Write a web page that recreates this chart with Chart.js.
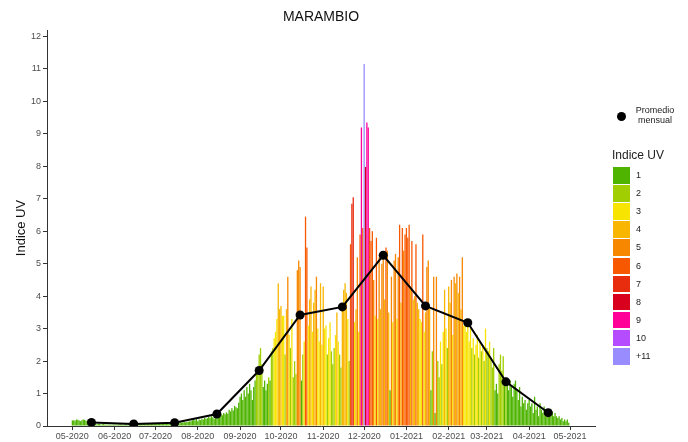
<!DOCTYPE html>
<html>
<head>
<meta charset="utf-8">
<script src="https://cdn.jsdelivr.net/npm/chart.js@4.4.0/dist/chart.umd.min.js"></script>
<style>
  body { margin: 0; background: #fff; font-family: "Liberation Sans", Arial, sans-serif; }
  #wrap { position: relative; width: 688px; height: 442px; }
  #title { position: absolute; left: 47px; top: 8px; width: 548px; text-align: center; font-size: 14px; color: #111; }
  #avg-dot { position: absolute; left: 617px; top: 112px; width: 9px; height: 9px; border-radius: 50%; background: #000; }
  #avg-label { position: absolute; left: 630px; top: 105px; width: 50px; text-align: center; font-size: 9px; line-height: 10px; color: #222; }
  #uv-title { position: absolute; left: 612px; top: 148px; font-size: 12px; color: #222; }
  .uv-box { position: absolute; left: 613px; width: 17px; height: 16.5px; }
  .uv-label { position: absolute; left: 636px; font-size: 9px; line-height: 10px; color: #222; }
</style>
</head>
<body>
<div id="wrap">
  <canvas id="chart-uv"></canvas>
  <div id="title">MARAMBIO</div>
  <div id="avg-dot"></div>
  <div id="avg-label">Promedio<br>mensual</div>
  <div id="uv-title">Indice UV</div>
</div>
<script>
// month ticks (day index from 1 May 2020)
const monthLabels = ['05-2020', '06-2020', '07-2020', '08-2020', '09-2020', '10-2020', '11-2020',
  '12-2020', '01-2021', '02-2021', '03-2021', '04-2021', '05-2021'];
const monthStartDay = [0, 31, 61, 92, 123, 153, 184, 214, 245, 276, 304, 335, 365];

// monthly average, plotted at the 15th of each month
const monthAvgDay = [14, 45, 75, 106, 137, 167, 198, 228, 259, 290, 318, 349];
const monthlyAvg = [0.11, 0.06, 0.10, 0.37, 1.71, 3.42, 3.67, 5.26, 3.70, 3.18, 1.36, 0.41];

// daily UV index, one array per month
const uvMay20 = [0.17, 0.18, 0.16, 0.2, 0.19, 0.17, 0.15, 0.18, 0.2, 0.19, 0.16, 0.17, 0.12, 0.09, 0.08, 0.07,
  0.06, 0.06, 0.05, 0.07, 0.06, 0.05, 0.05, 0.06, 0.05, 0.04, 0.05, 0.05, 0.04, 0.04, 0.05];
const uvJun20 = [0.04, 0.05, 0.04, 0.05, 0.06, 0.05, 0.04, 0.05, 0.06, 0.05, 0.06, 0.05, 0.04, 0.05, 0.06,
  0.05, 0.06, 0.07, 0.06, 0.05, 0.06, 0.07, 0.06, 0.07, 0.06, 0.07, 0.08, 0.07, 0.06, 0.07];
const uvJul20 = [0.06, 0.07, 0.06, 0.07, 0.08, 0.07, 0.08, 0.07, 0.08, 0.09, 0.08, 0.09, 0.08, 0.1, 0.09, 0.1,
  0.09, 0.1, 0.11, 0.1, 0.11, 0.12, 0.11, 0.12, 0.13, 0.14, 0.15, 0.18, 0.2, 0.17, 0.22];
const uvAug20 = [0.15, 0.2, 0.18, 0.22, 0.2, 0.25, 0.22, 0.24, 0.28, 0.25, 0.3, 0.27, 0.22, 0.3, 0.32, 0.35,
  0.3, 0.38, 0.33, 0.4, 0.36, 0.42, 0.38, 0.5, 0.45, 0.55, 0.48, 0.62, 0.58, 0.55, 0.72];
const uvSep20 = [0.9, 1.0, 0.8, 1.1, 0.9, 1.2, 1.0, 1.3, 1.1, 0.8, 1.2, 1.4, 1.6, 1.8, 2.2, 2.4, 1.9, 1.2,
  1.4, 1.1, 1.3, 1.5, 1.4, 2.3, 2.4, 2.7, 2.9, 3.3, 4.4, 3.6];
const uvOct20 = [3.7, 3.4, 3.4, 2.2, 3.6, 4.6, 2.8, 2.4, 3.3, 1.5, 2.0, 1.6, 4.8, 5.1, 4.9, 1.4, 2.2, 2.6,
  6.45, 5.5, 3.1, 3.9, 4.3, 2.9, 3.8, 4.2, 4.6, 3.0, 2.6, 4.4, 2.5];
const uvNov20 = [4.3, 3.0, 3.1, 2.2, 2.7, 3.2, 2.3, 1.9, 2.4, 2.8, 3.5, 2.6, 2.2, 1.8, 3.6, 4.2, 4.4, 4.1,
  3.3, 2.0, 5.6, 6.85, 7.05, 3.2, 3.6, 5.2, 2.9, 5.9, 9.2, 6.1];
const uvDec20 = [11.15, 7.98, 9.35, 9.2, 6.1, 5.7, 6.0, 4.5, 3.4, 5.8, 3.3, 5.2, 3.6, 5.0, 5.3, 3.9, 5.5,
  5.4, 3.5, 1.1, 4.6, 3.2, 5.1, 5.3, 3.3, 5.2, 6.2, 3.8, 6.1, 5.4, 5.9];
const uvJan21 = [6.1, 5.8, 6.2, 4.3, 5.7, 3.9, 4.0, 5.6, 3.8, 3.6, 3.3, 3.2, 5.9, 2.9, 3.5, 4.9, 5.1, 3.6,
  1.1, 2.3, 4.6, 0.4, 4.6, 2.0, 1.5, 2.6, 1.9, 2.9, 4.2, 3.0, 2.4];
const uvFeb21 = [4.3, 3.8, 4.5, 2.8, 4.6, 4.4, 4.7, 4.1, 4.6, 3.6, 5.2, 3.1, 3.3, 2.9, 3.2, 2.6, 3.0, 2.4,
  2.7, 2.2, 2.5, 2.8, 2.1, 2.6, 2.3, 2.5, 2.0, 3.0];
const uvMar21 = [2.4, 2.3, 2.6, 2.1, 1.8, 2.4, 1.1, 1.3, 1.0, 1.9, 2.2, 1.7, 2.15, 1.4, 1.5, 1.3, 1.1, 1.4,
  1.2, 0.9, 1.3, 1.4, 1.1, 0.8, 1.2, 0.6, 0.9, 0.7, 0.8, 0.5, 0.7];
const uvApr21 = [0.8, 0.6, 0.7, 0.4, 0.9, 0.5, 0.6, 0.3, 0.7, 0.5, 0.4, 0.6, 0.5, 0.3, 0.5, 0.4, 0.35, 0.45,
  0.3, 0.4, 0.3, 0.25, 0.3, 0.2, 0.25, 0.15, 0.2, 0.15, 0.2, 0.1];

// UV scale legend
const uvLevels = ['1', '2', '3', '4', '5', '6', '7', '8', '9', '10', '+11'];
const uvColors = ['#4eb400', '#a0ce00', '#f7e400', '#f8b600', '#f88700', '#f85900', '#e82c0e',
  '#d8001d', '#ff0099', '#b54cff', '#998cff'];

const yTicks = [0, 1, 2, 3, 4, 5, 6, 7, 8, 9, 10, 11, 12];

function uvColor(v) {
  let level = Math.round(v);
  if (level < 1) level = 1;
  if (level > 11) level = 11;
  return uvColors[level - 1];
}

const daily = [].concat(uvMay20, uvJun20, uvJul20, uvAug20, uvSep20, uvOct20, uvNov20,
  uvDec20, uvJan21, uvFeb21, uvMar21, uvApr21);
const dailyPoints = daily.map((v, i) => ({ x: i, y: v }));
const avgPoints = monthlyAvg.map((v, i) => ({ x: monthAvgDay[i], y: v }));

// legend boxes
const wrap = document.getElementById('wrap');
uvLevels.forEach((lab, i) => {
  const top = 167 + i * 18.1;
  const box = document.createElement('div');
  box.className = 'uv-box';
  box.style.top = top + 'px';
  box.style.background = uvColors[i];
  wrap.appendChild(box);
  const txt = document.createElement('div');
  txt.className = 'uv-label';
  txt.style.top = (top + 3) + 'px';
  txt.textContent = lab;
  wrap.appendChild(txt);
});

const tickFont = { family: '"Liberation Sans", Arial, sans-serif', size: 9 };

const config = {
  type: 'bar',
  data: {
    datasets: [
      {
        type: 'line',
        label: 'Promedio mensual',
        data: avgPoints,
        borderColor: '#000',
        borderWidth: 2,
        pointRadius: 4.5,
        pointBackgroundColor: '#000',
        pointBorderWidth: 0,
        tension: 0,
        order: 0,
      },
      {
        type: 'bar',
        label: 'Indice UV',
        data: dailyPoints,
        backgroundColor: (ctx) => uvColor(ctx.raw ? ctx.raw.y : 0),
        barPercentage: 0.95,
        categoryPercentage: 1,
        order: 1,
      },
    ],
  },
  options: {
    responsive: true,
    maintainAspectRatio: false,
    animation: false,
    events: [],
    layout: { padding: { top: 30, right: 93, bottom: 0, left: 0 } },
    plugins: { legend: { display: false }, tooltip: { enabled: false } },
    scales: {
      x: {
        type: 'linear',
        offset: false,
        min: -18.6,
        max: 383.3,
        afterBuildTicks: (scale) => { scale.ticks = monthStartDay.map((v) => ({ value: v })); },
        afterFit: (scale) => { scale.height = 16; },
        ticks: {
          autoSkip: false,
          maxRotation: 0,
          padding: 1,
          color: '#4d4d4d',
          font: tickFont,
          callback: (value, index) => monthLabels[index],
        },
        grid: { display: true, drawOnChartArea: false, drawTicks: true, tickLength: 4, color: '#333', offset: false },
        border: { display: true, color: '#333', width: 1 },
      },
      y: {
        min: 0,
        max: 12.2,
        afterBuildTicks: (scale) => { scale.ticks = yTicks.map((v) => ({ value: v })); },
        afterFit: (scale) => { scale.width = 47; },
        ticks: { padding: 2, color: '#4d4d4d', font: tickFont },
        grid: { display: true, drawOnChartArea: false, drawTicks: true, tickLength: 4, color: '#333' },
        border: { display: true, color: '#333', width: 1 },
        title: {
          display: true,
          text: 'Indice UV',
          color: '#111',
          font: { family: '"Liberation Sans", Arial, sans-serif', size: 13 },
          padding: { top: 14, bottom: 0 },
        },
      },
    },
  },
};

new Chart(document.getElementById('chart-uv'), config);
</script>
</body>
</html>
